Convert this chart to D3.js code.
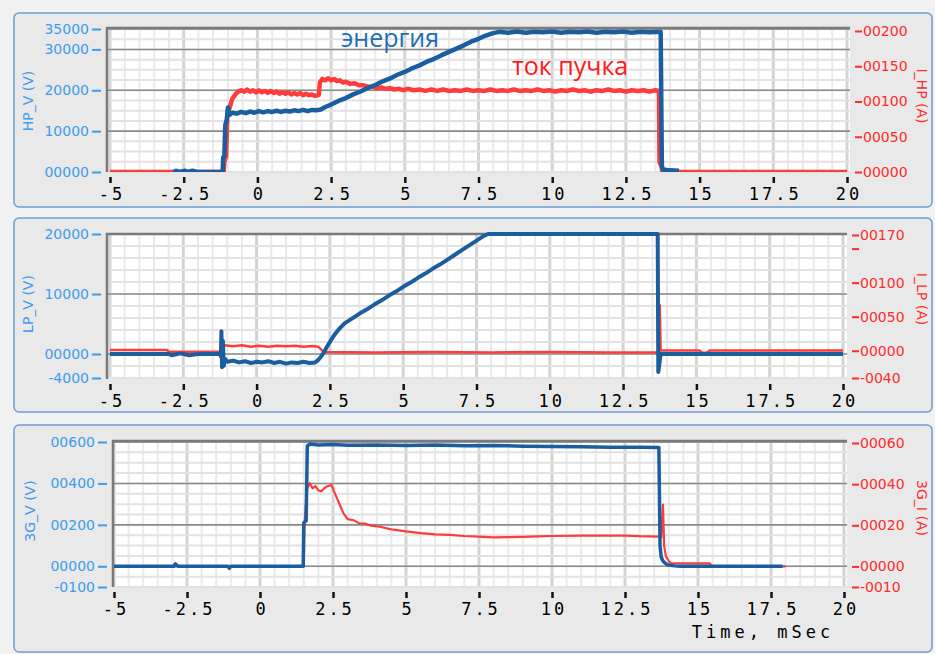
<!DOCTYPE html>
<html>
<head>
<meta charset="utf-8">
<script src="https://cdn.jsdelivr.net/npm/d3@7"></script>
<style>
body { margin: 0; background: #f1f1f1; }
svg { display: block; }
</style>
</head>
<body>
<svg id="chart" width="935" height="654"></svg>
<script>
// time axis, shared by the three panels
var timeTicks  = [-5, -2.5, 0, 2.5, 5, 7.5, 10, 12.5, 15, 17.5, 20];
var timeLabels = ['-5', '-2.5', '0', '2.5', '5', '7.5', '10', '12.5', '15', '17.5', '20'];

// panel 1: HP_V (V) / I_HP (A)
var hpVTicks  = [0, 10000, 20000, 30000, 35000];
var hpVLabels = ['00000', '10000', '20000', '30000', '35000'];
var hpITicks  = [0, 50, 100, 150, 200];
var hpILabels = ['00000', '00050', '00100', '00150', '00200'];
var hpV = [[-2.85,0],[-2.75,300],[-2.65,0],[-2.45,300],[-2.35,0],[-2.2,300],[-2.05,0],[-1.18,0],[-1.16,3600],[-1.12,3900],[-1.09,11500],[-1.04,12800],[-1.0,15800],[-0.95,14000],[-0.85,14500],[-0.7,14300],[-0.55,14700],[-0.4,14400],[-0.25,14800],[-0.1,14500],[0.05,14900],[0.2,14600],[0.35,14900],[0.5,14700],[0.65,15000],[0.8,14700],[0.95,15000],[1.1,14800],[1.25,15100],[1.4,14900],[1.55,15200],[1.7,14900],[1.85,15200],[2.0,15100],[2.15,15300],[2.3,15900],[2.5,16500],[2.75,17400],[3.0,18100],[3.25,19000],[3.5,19700],[3.75,20600],[4.0,21300],[4.25,22200],[4.5,22900],[4.75,23800],[5.0,24500],[5.25,25400],[5.5,26100],[5.75,27000],[6.0,27700],[6.25,28600],[6.5,29400],[6.75,30200],[7.0,31000],[7.25,31900],[7.5,32600],[7.75,33400],[8.0,34000],[8.2,34300],[8.5,34100],[8.8,34400],[9.1,34100],[9.4,34300],[9.7,34200],[10.0,34400],[10.3,34100],[10.6,34300],[10.9,34200],[11.2,34400],[11.5,34100],[11.8,34300],[12.1,34200],[12.4,34400],[12.7,34100],[13.0,34300],[13.3,34200],[13.68,34300],[13.72,1500],[13.76,600],[14.0,400],[14.3,300]];
var hpI = [[-5,0],[-1.14,0],[-1.12,15],[-1.06,22],[-1.02,80],[-0.95,90],[-0.85,104],[-0.75,110],[-0.65,114],[-0.55,116],[-0.45,114],[-0.35,117],[-0.25,114],[-0.15,116],[-0.05,113],[0.05,116],[0.15,113],[0.25,115],[0.35,112],[0.45,115],[0.55,112],[0.65,114],[0.75,111],[0.85,113],[0.95,111],[1.05,113],[1.15,110],[1.25,112],[1.35,110],[1.45,112],[1.55,109],[1.65,111],[1.75,109],[1.85,110],[1.95,108],[2.08,109],[2.12,127],[2.2,132],[2.3,130],[2.4,133],[2.5,130],[2.6,132],[2.7,129],[2.8,130],[2.9,127],[3.0,128],[3.15,125],[3.3,126],[3.45,123],[3.6,123],[3.75,121],[3.9,121],[4.05,119],[4.2,120],[4.35,118],[4.5,119],[4.65,117],[4.8,118],[4.95,116],[5.1,118],[5.3,116],[5.5,117],[5.7,115],[5.9,117],[6.1,115],[6.3,117],[6.5,115],[6.7,116],[6.9,115],[7.1,117],[7.3,115],[7.5,116],[7.7,115],[7.9,117],[8.1,115],[8.3,116],[8.5,115],[8.7,117],[8.9,115],[9.1,116],[9.3,115],[9.5,117],[9.7,115],[9.9,116],[10.1,114],[10.3,116],[10.5,115],[10.7,117],[10.9,115],[11.1,116],[11.3,114],[11.5,116],[11.7,115],[11.9,117],[12.1,115],[12.3,116],[12.5,114],[12.7,116],[12.9,115],[13.1,116],[13.3,114],[13.5,116],[13.62,115],[13.64,14],[13.7,9],[13.74,0],[20,0]];

// panel 2: LP_V (V) / I_LP (A)
var lpVTicks  = [-4000, 0, 10000, 20000];
var lpVLabels = ['-4000', '00000', '10000', '20000'];
var lpITicks  = [-40, 0, 50, 100, 150, 170];
var lpILabels = ['-0040', '00000', '00050', '00100', '', '00170'];
var lpV = [[-5,0],[-3.0,0],[-2.9,-200],[-2.6,100],[-2.3,-200],[-2.0,0],[-1.25,0],[-1.22,-400],[-1.2,3800],[-1.18,-2200],[-1.15,2200],[-1.12,-2000],[-1.08,-800],[-1.0,-1300],[-0.8,-1100],[-0.6,-1400],[-0.4,-1200],[-0.2,-1500],[0,-1300],[0.2,-1400],[0.4,-1200],[0.6,-1500],[0.8,-1300],[1.0,-1600],[1.2,-1400],[1.4,-1500],[1.6,-1300],[1.8,-1500],[2.0,-1400],[2.1,-1000],[2.2,-400],[2.3,300],[2.4,1200],[2.5,2000],[2.6,2800],[2.7,3500],[2.8,4100],[2.9,4600],[3.0,5100],[3.25,5900],[3.5,6700],[3.75,7400],[4.0,8200],[4.25,8900],[4.5,9700],[4.75,10400],[5.0,11200],[5.25,11900],[5.5,12700],[5.75,13400],[6.0,14200],[6.25,14900],[6.5,15700],[6.75,16500],[7.0,17300],[7.25,18100],[7.5,18900],[7.75,19700],[7.9,20000],[13.68,20000],[13.7,-3000],[13.74,-1500],[13.78,0],[20,0]];
var lpI = [[-5,1],[-3.05,1],[-3.0,-1.5],[-1.2,-1.5],[-1.15,6],[-1.1,8],[-0.8,6.5],[-0.5,8],[-0.2,6],[0.1,7.5],[0.4,6],[0.7,7.5],[1.0,6.5],[1.3,7.5],[1.6,6],[1.9,7],[2.1,6],[2.3,-2],[4.0,-2.5],[6,-2],[8,-2.5],[10,-2],[12,-2.5],[13.72,-2.5],[13.75,67],[13.78,0.5],[15.1,0.5],[15.2,-3],[15.35,-3],[15.45,0.5],[20,0.5]];

// panel 3: 3G_V (V) / 3G_I (A)
var gVTicks  = [-100, 0, 200, 400, 600];
var gVLabels = ['-0100', '00000', '00200', '00400', '00600'];
var gITicks  = [-10, 0, 20, 40, 60];
var gILabels = ['-0010', '00000', '00020', '00040', '00060'];
var gV = [[-5,0],[-2.95,0],[-2.9,12],[-2.8,0],[-1.1,0],[-1.05,-10],[-1.0,0],[1.48,0],[1.5,210],[1.58,220],[1.62,580],[1.7,590],[2.0,585],[2.5,588],[3,584],[4,586],[5,583],[6,585],[7,582],[8,583],[9,580],[10,578],[11,577],[12,575],[13,575],[13.66,574],[13.7,100],[13.74,45],[13.8,25],[13.9,12],[14.0,6],[14.2,2],[14.4,0],[17.9,0]];
var gI = [[-5,0],[1.5,0],[1.52,20],[1.55,26],[1.58,32],[1.62,38],[1.7,40.5],[1.8,38],[1.9,39],[2.0,37],[2.1,36.5],[2.2,38],[2.3,39],[2.45,39.5],[2.55,36],[2.7,31],[2.85,26],[3.0,23],[3.2,22.5],[3.4,21],[3.6,20.8],[3.8,19.8],[4.1,19.3],[4.5,18],[5.0,17],[5.5,16.2],[6.0,15.6],[6.5,15.3],[7.0,14.8],[7.5,14.5],[8.0,14.1],[8.5,14.2],[9.0,14.4],[9.5,14.6],[10,14.8],[11,15],[12,15],[12.5,15],[13,14.7],[13.7,14.5],[13.74,14],[13.8,30],[13.84,10],[13.9,5],[14.0,2.5],[14.1,1.5],[15.4,1.5],[15.5,0],[18.0,0]];

var blue = '#1b5e9f';
var red = '#ff3b3b';
var axisBlue = '#3d9cf0';
var axisRed = '#ff2b2b';

var svg = d3.select('#chart');

var panels = [
    { box: [14, 13, 918, 194], plot: [107, 28, 850, 172], xr: [110, 847],
      yL: [0, 35000], yLr: [172, 29], yR: [0, 200], yRr: [172, 31],
      lTicks: hpVTicks, lLabels: hpVLabels, rTicks: hpITicks, rLabels: hpILabels,
      lMinor: 2500, lMajor: [10000, 20000, 30000, 35000],
      v: hpV, i: hpI, vTitle: 'HP_V (V)', iTitle: 'I_HP (A)', lt: [28, 101], rt: [922, 96],
      blueW: 4.5, redW: 4.5 },
    { box: [14, 218, 918, 194], plot: [107, 234, 847, 379], xr: [110, 843],
      yL: [-4000, 20000], yLr: [378, 234], yR: [-40, 170], yRr: [378, 235],
      lTicks: lpVTicks, lLabels: lpVLabels, rTicks: lpITicks, rLabels: lpILabels,
      lMinor: 2000, lMajor: [0, 10000, 20000],
      v: lpV, i: lpI, vTitle: 'LP_V (V)', iTitle: 'I_LP (A)', lt: [28, 304], rt: [922, 299],
      blueW: 4, redW: 2.5 },
    { box: [14, 425, 918, 227], plot: [113, 441, 847, 587], xr: [114, 844],
      yL: [-100, 600], yLr: [587, 442], yR: [-10, 60], yRr: [587, 443],
      lTicks: gVTicks, lLabels: gVLabels, rTicks: gITicks, rLabels: gILabels,
      lMinor: 50, lMajor: [0, 200, 400, 600],
      v: gV, i: gI, vTitle: '3G_V (V)', iTitle: '3G_I (A)', lt: [30, 511], rt: [922, 508],
      blueW: 3.5, redW: 2.2 }
];

panels.forEach(drawPanel);

// annotations in the first panel
svg.append('text')
    .attr('x', 341).attr('y', 47)
    .attr('font-family', 'Open Sans')
    .attr('font-size', 25)
    .attr('fill', '#1f6db5')
    .text('энергия');
svg.append('text')
    .attr('x', 512).attr('y', 75)
    .attr('font-family', 'Open Sans')
    .attr('font-size', 25)
    .attr('fill', '#ff1a1a')
    .text('ток пучка');

svg.append('text')
    .attr('x', 763).attr('y', 638)
    .attr('text-anchor', 'middle')
    .attr('font-family', 'DejaVu Sans Mono')
    .attr('font-size', 17)
    .attr('letter-spacing', 4)
    .attr('fill', '#000')
    .text('Time, mSec');


function drawPanel(p)
{
    var g = svg.append('g');
    var x0 = p.plot[0], y0 = p.plot[1], x1 = p.plot[2], y1 = p.plot[3];

    g.append('rect')
        .attr('x', p.box[0]).attr('y', p.box[1])
        .attr('width', p.box[2]).attr('height', p.box[3])
        .attr('rx', 5)
        .attr('fill', '#e9e9e9')
        .attr('stroke', '#6f9fcf')
        .attr('stroke-width', 1.5);

    g.append('rect')
        .attr('x', x0).attr('y', y0)
        .attr('width', x1 - x0).attr('height', y1 - y0)
        .attr('fill', '#fff');

    var x = d3.scaleLinear().domain([-5, 20]).range(p.xr);
    var yl = d3.scaleLinear().domain(p.yL).range(p.yLr);
    var yr = d3.scaleLinear().domain(p.yR).range(p.yRr);

    var grid = g.append('g');
    // vertical grid every 0.5 ms, heavier at the labelled ticks
    d3.range(-5, 20.01, 0.5).forEach(function(t)
    {
        var major = Math.abs(t / 2.5 - Math.round(t / 2.5)) < 1e-6;
        var xp = x(t);
        if (xp < x0 || xp > x1) return;
        grid.append('line')
            .attr('x1', xp).attr('x2', xp)
            .attr('y1', y0).attr('y2', y1)
            .attr('stroke', major ? '#d4d4d4' : '#eaeaea')
            .attr('stroke-width', major ? 3 : 2);
    });
    // horizontal grid
    var start = Math.ceil(p.yL[0] / p.lMinor) * p.lMinor;
    d3.range(start, p.yL[1] + 1, p.lMinor).forEach(function(v)
    {
        grid.append('line')
            .attr('x1', x0).attr('x2', x1)
            .attr('y1', yl(v)).attr('y2', yl(v))
            .attr('stroke', '#e2e2e2')
            .attr('stroke-width', 2);
    });
    p.lMajor.forEach(function(v)
    {
        grid.append('line')
            .attr('x1', x0).attr('x2', x1)
            .attr('y1', yl(v)).attr('y2', yl(v))
            .attr('stroke', '#8c8c8c')
            .attr('stroke-width', 1.6);
    });
    // plot frame: left and top
    g.append('path')
        .attr('d', 'M' + x0 + ',' + y1 + 'V' + y0 + 'H' + x1)
        .attr('fill', 'none')
        .attr('stroke', '#7a7a7a')
        .attr('stroke-width', 2.5);

    // data
    var clip = 'clip' + y0;
    svg.append('clipPath').attr('id', clip)
        .append('rect')
        .attr('x', x0).attr('y', y0 - 3)
        .attr('width', x1 - x0).attr('height', y1 - y0 + 3);

    var lineI = d3.line().x(function(d) { return x(d[0]); }).y(function(d) { return yr(d[1]); });
    var lineV = d3.line().x(function(d) { return x(d[0]); }).y(function(d) { return yl(d[1]); });

    g.append('path')
        .datum(p.i)
        .attr('clip-path', 'url(#' + clip + ')')
        .attr('d', lineI)
        .attr('fill', 'none')
        .attr('stroke', red)
        .attr('stroke-width', p.redW)
        .attr('stroke-linejoin', 'round');
    g.append('path')
        .datum(p.v)
        .attr('clip-path', 'url(#' + clip + ')')
        .attr('d', lineV)
        .attr('fill', 'none')
        .attr('stroke', blue)
        .attr('stroke-width', p.blueW)
        .attr('stroke-linejoin', 'round');

    // left axis
    var la = g.append('g')
        .attr('transform', 'translate(' + (x0 - 6) + ',0)')
        .call(d3.axisLeft(yl).tickValues(p.lTicks)
            .tickFormat(function(d, i) { return p.lLabels[i]; })
            .tickSize(9).tickPadding(3));
    la.select('.domain').remove();
    la.selectAll('line').attr('stroke', axisBlue).attr('stroke-width', 2);
    la.selectAll('text')
        .attr('fill', axisBlue)
        .attr('font-family', 'DejaVu Sans')
        .attr('font-size', 14);

    // right axis
    var ra = g.append('g')
        .attr('transform', 'translate(' + (x1 + 5) + ',0)')
        .call(d3.axisRight(yr).tickValues(p.rTicks)
            .tickFormat(function(d, i) { return p.rLabels[i]; })
            .tickSize(7).tickPadding(1));
    ra.select('.domain').remove();
    ra.selectAll('line').attr('stroke', axisRed).attr('stroke-width', 2);
    ra.selectAll('text')
        .attr('fill', axisRed)
        .attr('font-family', 'DejaVu Sans')
        .attr('font-size', 14);

    // time axis
    var ba = g.append('g')
        .attr('transform', 'translate(0,' + (y1 + 5) + ')')
        .call(d3.axisBottom(x).tickValues(timeTicks)
            .tickFormat(function(d, i) { return timeLabels[i]; })
            .tickSize(6).tickPadding(5));
    ba.select('.domain').remove();
    ba.selectAll('line').attr('stroke', '#111').attr('stroke-width', 2.5);
    ba.selectAll('text')
        .attr('fill', '#000')
        .attr('font-family', 'DejaVu Sans Mono')
        .attr('font-size', 17)
        .attr('letter-spacing', 3)
        .attr('dx', 1.5);

    // axis titles
    g.append('text')
        .attr('transform', 'translate(' + p.lt[0] + ',' + p.lt[1] + ') rotate(-90)')
        .attr('text-anchor', 'middle')
        .attr('dy', '0.35em')
        .attr('font-family', 'DejaVu Sans')
        .attr('font-size', 14)
        .attr('fill', axisBlue)
        .text(p.vTitle);
    g.append('text')
        .attr('transform', 'translate(' + p.rt[0] + ',' + p.rt[1] + ') rotate(90)')
        .attr('text-anchor', 'middle')
        .attr('dy', '0.35em')
        .attr('font-family', 'DejaVu Sans')
        .attr('font-size', 14)
        .attr('fill', axisRed)
        .text(p.iTitle);
}
</script>
</body>
</html>
